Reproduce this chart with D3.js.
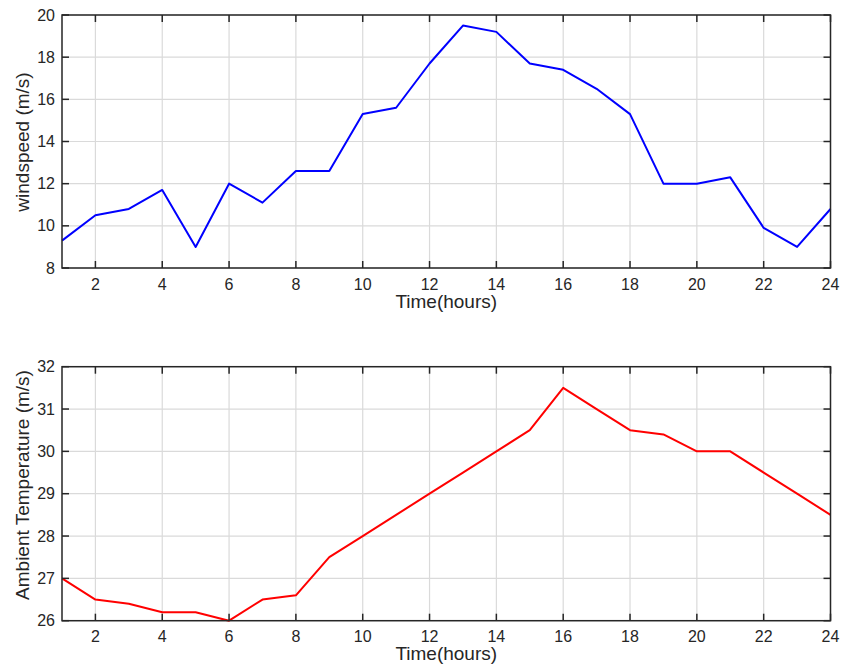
<!DOCTYPE html>
<html>
<head>
<meta charset="utf-8">
<script src="https://cdn.jsdelivr.net/npm/d3@7"></script>
<style>
body { margin:0; background:#fff; }
text { font-family: "Liberation Sans", Arial, Helvetica, sans-serif; }
</style>
</head>
<body>
<svg id="chart" width="842" height="670"></svg>
<script>
const hours = [1,2,3,4,5,6,7,8,9,10,11,12,13,14,15,16,17,18,19,20,21,22,23,24];
const windspeed = [9.3,10.5,10.8,11.7,9.0,12.0,11.1,12.6,12.6,15.3,15.6,17.7,19.5,19.2,17.7,17.4,16.5,15.3,12.0,12.0,12.3,9.9,9.0,10.8];
const temperature = [27,26.5,26.4,26.2,26.2,26.0,26.5,26.6,27.5,28,28.5,29,29.5,30,30.5,31.5,31,30.5,30.4,30,30,29.5,29,28.5];
const xTicks = [2,4,6,8,10,12,14,16,18,20,22,24];
const windTicks = [8,10,12,14,16,18,20];
const tempTicks = [26,27,28,29,30,31,32];
const xLabel = "Time(hours)";
const windLabel = "windspeed (m/s)";
const tempLabel = "Ambient Temperature (m/s)";

const svg = d3.select("#chart");
const left = 62, right = 830.5;
const axisColor = "#262626";
const tickLen = 7;

function panel(top, bottom, yDomain, yTicks, data, color, yLab, yLabCenter) {
  const x = d3.scaleLinear().domain([1,24]).range([left, right]);
  const y = d3.scaleLinear().domain(yDomain).range([bottom, top]);
  const g = svg.append("g");
  // grid
  g.selectAll(".vg").data(xTicks).enter().append("line")
    .attr("x1", d=>x(d)).attr("x2", d=>x(d)).attr("y1", top).attr("y2", bottom)
    .attr("stroke", "#dadada").attr("stroke-width", 1.2);
  g.selectAll(".hg").data(yTicks).enter().append("line")
    .attr("y1", d=>y(d)).attr("y2", d=>y(d)).attr("x1", left).attr("x2", right)
    .attr("stroke", "#dadada").attr("stroke-width", 1.2);
  // line
  const line = d3.line().x((d,i)=>x(hours[i])).y(d=>y(d));
  g.append("path").datum(data).attr("d", line)
    .attr("fill","none").attr("stroke", color).attr("stroke-width", 2)
    .attr("stroke-linejoin","round");
  // ticks (inside, mirrored)
  xTicks.forEach(t => {
    g.append("line").attr("x1", x(t)).attr("x2", x(t)).attr("y1", bottom).attr("y2", bottom - tickLen)
      .attr("stroke", axisColor).attr("stroke-width", 1.5);
    g.append("line").attr("x1", x(t)).attr("x2", x(t)).attr("y1", top).attr("y2", top + tickLen)
      .attr("stroke", axisColor).attr("stroke-width", 1.5);
  });
  yTicks.forEach(t => {
    g.append("line").attr("y1", y(t)).attr("y2", y(t)).attr("x1", left).attr("x2", left + tickLen)
      .attr("stroke", axisColor).attr("stroke-width", 1.5);
    g.append("line").attr("y1", y(t)).attr("y2", y(t)).attr("x1", right).attr("x2", right - tickLen)
      .attr("stroke", axisColor).attr("stroke-width", 1.5);
  });
  // box
  g.append("rect").attr("x", left).attr("y", top).attr("width", right-left).attr("height", bottom-top)
    .attr("fill","none").attr("stroke", axisColor).attr("stroke-width", 1.5);
  // labels
  g.selectAll(".xl").data(xTicks).enter().append("text")
    .attr("x", d=>x(d)).attr("y", bottom + 21.5).attr("text-anchor","middle")
    .attr("font-size", 16).attr("fill", axisColor).text(d=>d);
  g.selectAll(".yl").data(yTicks).enter().append("text")
    .attr("x", left - 7).attr("y", d=>y(d) + 5.6).attr("text-anchor","end")
    .attr("font-size", 16).attr("fill", axisColor).text(d=>d);
  g.append("text").attr("x", (left+right)/2).attr("y", bottom + 39.5).attr("text-anchor","middle")
    .attr("font-size", 19).attr("fill", axisColor).text(xLabel);
  g.append("text").attr("transform", `translate(28.5,${yLabCenter}) rotate(-90)`)
    .attr("text-anchor","middle").attr("font-size", 19).attr("fill", axisColor).text(yLab);
}

panel(15, 268, [8,20], windTicks, windspeed, "#0000ff", windLabel, 142);
panel(366.7, 620.7, [26,32], tempTicks, temperature, "#ff0000", tempLabel, 485);
</script>
</body>
</html>
